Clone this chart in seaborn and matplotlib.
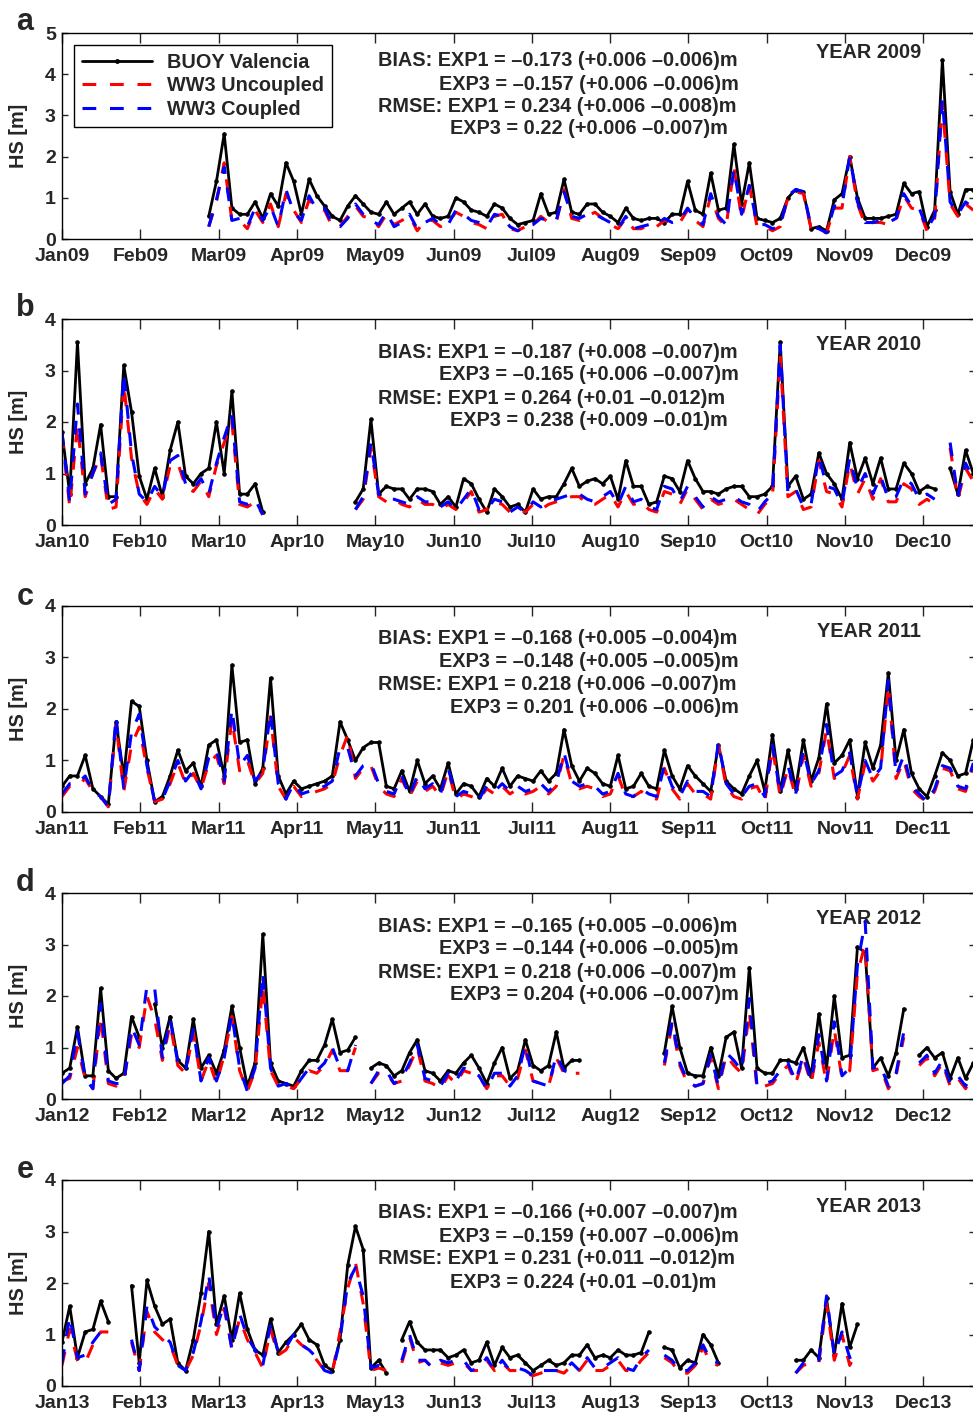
import numpy as np
import pandas as pd
import matplotlib
matplotlib.use("Agg")
import matplotlib.pyplot as plt
from matplotlib import font_manager as fm
from matplotlib.lines import Line2D
import seaborn as sns

NA = np.nan
STEP = 3  # days between samples

months = ['Jan', 'Feb', 'Mar', 'Apr', 'May', 'Jun',
          'Jul', 'Aug', 'Sep', 'Oct', 'Nov', 'Dec']
years = ['09', '10', '11', '12', '13']
panels = ['a', 'b', 'c', 'd', 'e']

# ---- HS values [m], one sample every 3 days ----
buoy_2009 = [NA] * 19 + [
    0.55, 1.4, 2.55, 0.75, 0.6, 0.6, 0.9, 0.5, 1.1, 0.8, 1.85, 1.4, 0.6, 1.45, 1.05, 0.8,
    0.55, 0.45, 0.8, 1.05, 0.85, 0.65, 0.6, 0.9, 0.6, 0.75, 0.9, 0.6, 0.85, 0.55, 0.5, 0.55,
    1.0, 0.9, 0.7, 0.65, 0.55, 0.85, 0.75, 0.5, 0.35, 0.4, 0.45, 1.1, 0.6, 0.65, 1.45, 0.65,
    0.6, 0.85, 0.85, 0.65, 0.55, 0.4, 0.75, 0.5, 0.45, 0.5, 0.5, 0.4, 0.6, 0.6, 1.4, 0.7,
    0.6, 1.6, 0.7, 0.75, 2.3, 0.85, 1.85, 0.5, 0.45, 0.4, 0.5, 1.0, 1.2, 1.15, 0.25, 0.3,
    0.2, 0.95, 1.1, 2.0, 1.0, 0.5, 0.5, 0.5, 0.55, 0.6, 1.35, 1.1, 1.15, 0.3, 0.7, 4.35,
    1.15, 0.6, 1.2, 1.2]
unc_2009 = [NA] * 19 + [
    0.3, 0.9, 1.85, 0.45, 0.45, 0.25, 0.7, 0.4, 0.85, 0.3, 1.1, 0.7, 0.4, 0.95, 0.75, 0.7,
    0.3, 0.3, 0.55, 0.8, 0.55, 0.5, 0.3, 0.6, 0.35, 0.45, 0.55, 0.2, 0.45, 0.45, 0.3, 0.4,
    0.65, 0.55, 0.4, 0.35, 0.25, 0.55, 0.6, 0.25, 0.2, 0.3, 0.35, 0.55, 0.4, 0.4, 1.2, 0.5,
    0.45, 0.55, 0.65, 0.5, 0.35, 0.25, 0.5, 0.25, 0.25, 0.35, 0.3, 0.45, 0.4, 0.4, 0.7, 0.45,
    0.3, 1.05, 0.5, 0.3, 1.75, 0.5, 1.3, 0.3, 0.3, 0.2, 0.3, 1.0, 1.15, 1.1, 0.25, 0.2,
    0.15, 0.75, 0.75, 2.0, 0.85, 0.35, 0.4, 0.4, 0.35, 0.45, 1.05, 0.75, 0.7, 0.2, 0.5, 3.3,
    0.85, 0.55, 0.85, 0.7]
cpl_2009 = [NA] * 19 + [
    0.3, 0.95, 1.75, 0.45, 0.5, 0.3, 0.75, 0.45, 0.8, 0.3, 1.2, 0.65, 0.45, 1.05, 0.7, 0.75,
    0.35, 0.3, 0.5, 0.85, 0.6, 0.45, 0.35, 0.65, 0.3, 0.4, 0.6, 0.25, 0.4, 0.5, 0.35, 0.35,
    0.7, 0.6, 0.45, 0.4, 0.3, 0.6, 0.55, 0.3, 0.2, 0.3, 0.35, 0.5, 0.45, 0.45, 1.15, 0.55,
    0.5, 0.6, 0.6, 0.5, 0.4, 0.25, 0.55, 0.25, 0.3, 0.35, 0.35, 0.5, 0.4, 0.45, 0.75, 0.5,
    0.35, 1.1, 0.55, 0.35, 1.7, 0.6, 1.3, 0.35, 0.35, 0.25, 0.3, 1.05, 1.2, 1.15, 0.3, 0.25,
    0.15, 0.8, 0.8, 2.0, 0.9, 0.4, 0.4, 0.45, 0.4, 0.5, 1.1, 0.8, 0.75, 0.25, 0.55, 3.4,
    0.9, 0.6, 0.9, 0.75]

buoy_2010 = [
    1.8, 0.6, 3.55, 0.8, 1.1, 1.95, 0.55, 0.55, 3.1, 2.2,
    0.95, 0.5, 1.1, 0.55, 1.45, 2.0, 0.95, 0.8, 1.0, 1.1,
    2.0, 1.0, 2.6, 0.6, 0.6, 0.8, 0.25, NA, NA, NA,
    NA, NA, NA, NA, NA, NA, NA, NA, 0.45, 0.7,
    2.05, 0.6, 0.75, 0.7, 0.7, 0.5, 0.7, 0.7, 0.65, 0.4,
    0.55, 0.35, 0.9, 0.8, 0.5, 0.25, 0.7, 0.55, 0.35, 0.4,
    0.25, 0.7, 0.5, 0.55, 0.55, 0.8, 1.1, 0.75, 0.85, 0.9,
    0.8, 0.95, 0.5, 1.25, 0.75, 0.75, 0.4, 0.45, 0.95, 0.9,
    0.65, 1.25, 0.9, 0.65, 0.65, 0.6, 0.7, 0.75, 0.75, 0.55,
    0.55, 0.6, 0.75, 3.55, 0.75, 0.95, 0.5, 0.6, 1.4, 1.0,
    0.8, 0.5, 1.6, 0.9, 1.3, 0.8, 1.3, 0.7, 0.7, 1.2,
    1.0, 0.65, 0.75, 0.7, NA, 1.1, 0.6, 1.45, 1.0]
unc_2010 = [
    1.75, 0.35, 1.95, 0.55, 1.0, 1.35, 0.3, 0.35, 2.75, 1.3,
    0.6, 0.4, 0.7, 0.5, 1.15, 1.2, 0.75, 0.65, 0.85, 0.55,
    1.15, 1.6, 2.0, 0.4, 0.35, 0.45, 0.2, NA, NA, NA,
    NA, NA, NA, NA, NA, NA, NA, NA, 0.3, 0.5,
    1.5, 0.55, 0.45, 0.5, 0.4, 0.35, 0.5, 0.4, 0.4, 0.3,
    0.4, 0.3, 0.45, 0.65, 0.25, 0.3, 0.45, 0.4, 0.25, 0.3,
    0.25, 0.4, 0.3, 0.4, 0.45, 0.5, 0.55, 0.55, 0.4, 0.4,
    0.5, 0.6, 0.35, 0.65, 0.4, 0.45, 0.3, 0.25, 0.65, 0.6,
    0.4, 0.7, 0.5, 0.3, 0.5, 0.4, 0.45, 0.5, 0.4, 0.3,
    0.2, 0.4, 0.55, 3.3, 0.55, 0.65, 0.3, 0.35, 1.25, 0.65,
    0.6, 0.35, 1.2, 0.6, 0.9, 0.5, 0.9, 0.45, 0.45, 0.8,
    0.7, 0.4, 0.5, 0.4, NA, 1.5, 0.5, 1.1, 0.85]
cpl_2010 = [
    1.8, 0.45, 2.35, 0.6, 1.0, 1.4, 0.4, 0.5, 2.95, 1.4,
    0.6, 0.45, 0.75, 0.55, 1.25, 1.35, 0.8, 0.7, 0.9, 0.6,
    1.2, 1.7, 2.15, 0.45, 0.4, 0.5, 0.2, NA, NA, NA,
    NA, NA, NA, NA, NA, NA, NA, NA, 0.3, 0.55,
    1.6, 0.6, 0.5, 0.5, 0.45, 0.4, 0.55, 0.45, 0.45, 0.35,
    0.45, 0.3, 0.5, 0.7, 0.3, 0.3, 0.5, 0.45, 0.25, 0.35,
    0.25, 0.45, 0.35, 0.45, 0.5, 0.55, 0.6, 0.6, 0.5, 0.45,
    0.55, 0.65, 0.4, 0.75, 0.45, 0.5, 0.35, 0.3, 0.75, 0.7,
    0.45, 0.75, 0.55, 0.35, 0.55, 0.45, 0.5, 0.55, 0.45, 0.4,
    0.25, 0.45, 0.6, 3.5, 0.6, 0.7, 0.35, 0.4, 1.35, 0.75,
    0.7, 0.4, 1.3, 0.7, 1.0, 0.6, 0.95, 0.5, 0.55, 0.9,
    0.8, 0.5, 0.6, 0.5, NA, 1.6, 0.55, 1.2, 0.9]

buoy_2011 = [
    0.5, 0.7, 0.7, 1.1, 0.45, 0.3, 0.15, 1.75, 0.7, 2.15,
    2.05, 1.0, 0.2, 0.3, 0.7, 1.2, 0.8, 0.95, 0.5, 1.3,
    1.4, 0.7, 2.85, 1.35, 1.4, 0.55, 0.85, 2.6, 0.7, 0.35,
    0.6, 0.45, 0.5, 0.55, 0.6, 0.7, 1.75, 1.4, 1.0, 1.25,
    1.35, 1.35, 0.5, 0.45, 0.8, 0.4, 1.0, 0.55, 0.7, 0.45,
    0.95, 0.35, 0.55, 0.5, 0.3, 0.65, 0.5, 0.85, 0.5, 0.7,
    0.65, 0.6, 0.8, 0.6, 0.75, 1.6, 0.9, 0.6, 0.85, 0.75,
    0.55, 0.5, 1.1, 0.45, 0.5, 0.75, 0.5, 0.45, 1.2, 0.7,
    0.45, 0.9, 0.7, 0.55, 0.4, 1.3, 0.6, 0.45, 0.35, 0.7,
    1.0, 0.4, 1.5, 0.4, 1.2, 0.45, 1.4, 0.6, 1.05, 2.1,
    0.95, 1.1, 1.4, 0.3, 1.35, 0.85, 1.3, 2.7, 1.0, 1.6,
    0.75, 0.45, 0.3, 0.7, 1.15, 1.0, 0.7, 0.75, 1.4]
unc_2011 = [
    0.3, 0.5, 0.5, 0.65, 0.4, 0.3, 0.1, 1.7, 0.4, 1.3,
    1.65, 0.85, 0.2, 0.25, 0.55, 0.95, 0.55, 0.75, 0.45, 0.95,
    1.1, 0.55, 1.8, 0.8, 1.0, 0.55, 0.75, 1.85, 0.5, 0.25,
    0.5, 0.3, 0.35, 0.4, 0.45, 0.55, 1.1, 1.5, 0.65, 0.85,
    0.9, 0.5, 0.35, 0.3, 0.65, 0.3, 0.6, 0.4, 0.5, 0.3,
    0.8, 0.25, 0.35, 0.3, 0.25, 0.45, 0.35, 0.5, 0.35, 0.45,
    0.35, 0.4, 0.5, 0.35, 0.5, 1.1, 0.55, 0.45, 0.5, 0.45,
    0.3, 0.35, 0.7, 0.3, 0.3, 0.4, 0.3, 0.25, 0.85, 0.45,
    0.25, 0.55, 0.35, 0.35, 0.25, 1.3, 0.5, 0.3, 0.25, 0.45,
    0.5, 0.2, 1.25, 0.3, 0.85, 0.3, 1.1, 0.5, 0.75, 1.6,
    0.65, 0.75, 1.1, 0.25, 0.95, 0.6, 0.8, 2.45, 0.65, 1.0,
    0.45, 0.3, 0.2, 0.4, 0.85, 0.8, 0.45, 0.4, 0.9]
cpl_2011 = [
    0.35, 0.55, 0.55, 0.7, 0.4, 0.3, 0.1, 1.85, 0.45, 1.55,
    1.9, 0.9, 0.2, 0.25, 0.6, 1.0, 0.6, 0.8, 0.45, 1.05,
    1.2, 0.6, 2.0, 0.9, 1.1, 0.6, 0.8, 1.95, 0.55, 0.25,
    0.55, 0.35, 0.4, 0.45, 0.5, 0.6, 1.25, 1.25, 0.7, 0.9,
    0.95, 0.55, 0.4, 0.35, 0.7, 0.3, 0.7, 0.45, 0.55, 0.35,
    0.85, 0.3, 0.4, 0.35, 0.25, 0.5, 0.4, 0.55, 0.4, 0.5,
    0.4, 0.45, 0.55, 0.4, 0.55, 1.15, 0.6, 0.5, 0.55, 0.5,
    0.35, 0.4, 0.75, 0.35, 0.3, 0.45, 0.35, 0.3, 0.9, 0.5,
    0.3, 0.6, 0.4, 0.4, 0.3, 1.35, 0.55, 0.35, 0.3, 0.5,
    0.55, 0.3, 1.3, 0.35, 0.9, 0.35, 1.2, 0.55, 0.8, 1.7,
    0.7, 0.8, 1.15, 0.3, 1.0, 0.65, 0.85, 2.55, 0.7, 1.1,
    0.5, 0.35, 0.2, 0.45, 0.9, 0.85, 0.5, 0.45, 0.95]

buoy_2012 = [
    0.5, 0.6, 1.4, 0.45, 0.45, 2.15, 0.55, 0.4, 0.5, 1.6,
    1.2, NA, 1.85, 1.0, 1.6, 0.75, 0.6, 1.55, 0.6, 0.85,
    0.5, 0.95, 1.8, 1.0, 0.25, 0.7, 3.2, 0.7, 0.35, 0.3,
    0.25, 0.55, 0.75, 0.75, 1.05, 1.55, 0.9, 0.95, 1.2, NA,
    0.6, 0.7, 0.65, 0.45, 0.55, 0.9, 1.15, 0.55, 0.5, 0.35,
    0.55, 0.5, 0.7, 0.85, 0.6, 0.3, 0.7, 1.0, 0.4, 0.55,
    1.15, 0.65, 0.55, 0.65, 1.3, 0.6, 0.75, 0.75, NA, NA,
    NA, NA, NA, NA, NA, NA, NA, NA, 0.9, 1.8,
    1.0, 0.5, 0.45, 0.45, 1.0, 0.45, 1.2, 1.3, 0.6, 2.55,
    0.6, 0.5, 0.5, 0.75, 0.75, 0.7, 1.0, 0.45, 1.65, 0.6,
    2.0, 0.8, 0.85, 2.95, 2.85, 0.6, 0.8, 0.45, 0.9, 1.75,
    NA, 0.85, 1.0, 0.8, 0.9, 0.4, 0.8, 0.4, 0.7]
unc_2012 = [
    0.35, 0.4, 1.0, 0.4, 0.2, 1.6, 0.3, 0.25, 0.35, 1.25,
    1.0, 2.0, 1.55, 0.75, 1.45, 0.65, 0.5, 1.3, 0.35, 0.75,
    0.3, 0.85, 1.6, 0.55, 0.15, 0.55, 2.2, 0.55, 0.25, 0.25,
    0.2, 0.4, 0.55, 0.5, 0.65, 0.95, 0.55, 0.55, 1.0, NA,
    0.3, 0.5, 0.5, 0.3, 0.35, 0.65, 1.0, 0.35, 0.3, 0.2,
    0.45, 0.3, 0.55, 0.5, 0.45, 0.2, 0.45, 0.45, 0.25, 0.4,
    0.95, 0.35, 0.3, 0.25, 0.8, 0.5, 0.5, 0.5, NA, NA,
    NA, NA, NA, NA, NA, NA, NA, NA, 0.65, 1.45,
    0.65, 0.3, 0.25, 0.3, 0.8, 0.2, 0.85, 0.65, 0.5, 1.7,
    0.2, 0.25, 0.3, 0.5, 0.65, 0.3, 0.8, 0.3, 1.1, 0.3,
    1.35, 0.4, 0.55, 2.45, 3.0, 0.55, 0.6, 0.2, 0.45, 1.2,
    NA, 0.65, 0.8, 0.45, 0.7, 0.25, 0.4, 0.2, 0.45]
cpl_2012 = [
    0.3, 0.45, 1.3, 0.4, 0.2, 1.85, 0.35, 0.3, 0.3, 1.4,
    1.05, 2.2, 2.15, 0.8, 1.55, 0.7, 0.55, 1.35, 0.35, 0.8,
    0.35, 0.8, 1.65, 0.6, 0.15, 0.6, 2.45, 0.6, 0.25, 0.3,
    0.2, 0.4, 0.6, 0.55, 0.7, 1.0, 0.6, 0.55, 1.05, NA,
    0.3, 0.55, 0.55, 0.3, 0.4, 0.7, 1.05, 0.4, 0.35, 0.25,
    0.5, 0.35, 0.6, 0.55, 0.45, 0.2, 0.5, 0.5, 0.25, 0.45,
    1.05, 0.35, 0.3, 0.25, 0.85, 0.55, 0.5, 0.55, NA, NA,
    NA, NA, NA, NA, NA, NA, NA, NA, 0.7, 1.5,
    0.7, 0.35, 0.25, 0.3, 0.85, 0.25, 0.9, 0.75, 0.55, 1.95,
    0.25, 0.3, 0.35, 0.55, 0.7, 0.35, 0.85, 0.35, 1.25, 0.35,
    1.5, 0.45, 0.6, 2.6, 3.45, 0.6, 0.65, 0.25, 0.5, 1.3,
    NA, 0.7, 0.85, 0.5, 0.75, 0.3, 0.45, 0.25, 0.5]

buoy_2013 = [
    0.85, 1.55, 0.55, 1.05, 1.1, 1.65, 1.25, NA, NA, 1.95,
    0.45, 2.05, 1.55, 1.2, 1.3, 0.45, 0.3, 0.9, 1.8, 3.0,
    1.2, 1.75, 0.9, 1.8, 1.1, 0.7, 0.6, 1.3, 0.65, 0.85,
    1.0, 1.2, 0.9, 0.8, 0.4, 0.3, 0.9, 2.35, 3.1, 2.65,
    0.35, 0.5, 0.25, NA, 0.9, 1.25, 0.85, 0.7, 0.7, 0.7,
    0.55, 0.6, 0.7, 0.45, 0.5, 0.85, 0.4, 0.75, 0.55, 0.6,
    0.45, 0.3, 0.4, 0.5, 0.4, 0.45, 0.6, 0.6, 0.8, 0.55,
    0.6, 0.55, 0.7, 0.6, 0.6, 0.65, 1.05, NA, 0.75, 0.7,
    0.35, 0.5, 0.45, 1.0, 0.8, 0.45, NA, NA, NA, NA,
    NA, NA, NA, NA, NA, 0.5, 0.5, 0.7, 0.55, 1.7,
    0.6, 1.6, 0.75, 1.2]
unc_2013 = [
    0.4, 1.1, 0.5, 0.45, 0.8, 1.05, 1.05, NA, NA, 0.85,
    0.3, 1.45, 1.05, 0.9, 0.8, 0.4, 0.3, 0.6, 1.2, 2.0,
    1.0, 1.5, 0.75, 1.3, 0.9, 0.65, 0.35, 1.1, 0.6, 0.7,
    0.95, 0.8, 0.7, 0.5, 0.3, 0.25, 1.05, 1.9, 2.4, 1.6,
    0.3, 0.35, 0.3, NA, 0.45, 0.95, 0.45, 0.5, 0.35, 0.45,
    0.4, 0.45, 0.45, 0.3, 0.3, 0.5, 0.3, 0.45, 0.3, 0.3,
    0.25, 0.2, 0.25, 0.3, 0.3, 0.25, 0.4, 0.3, 0.5, 0.3,
    0.3, 0.4, 0.5, 0.3, 0.3, 0.5, 0.65, NA, 0.55, 0.45,
    0.25, 0.25, 0.4, 0.75, 0.45, 0.4, NA, NA, NA, NA,
    NA, NA, NA, NA, NA, 0.25, 0.4, 0.45, 0.45, 1.6,
    0.5, 1.0, 0.4, 0.7]
cpl_2013 = [
    0.45, 1.35, 0.55, 0.6, 0.85, 1.05, 1.05, NA, NA, 0.9,
    0.3, 1.55, 1.15, 1.0, 0.85, 0.4, 0.3, 0.65, 1.25, 2.15,
    1.1, 1.6, 0.7, 1.4, 0.95, 0.7, 0.4, 1.2, 0.65, 0.75,
    1.0, 0.8, 0.7, 0.55, 0.3, 0.25, 0.9, 2.0, 2.3, 1.75,
    0.35, 0.4, 0.3, NA, 0.5, 1.0, 0.5, 0.5, 0.35, 0.5,
    0.45, 0.5, 0.5, 0.3, 0.35, 0.55, 0.3, 0.5, 0.3, 0.35,
    0.3, 0.2, 0.3, 0.3, 0.3, 0.3, 0.45, 0.3, 0.55, 0.35,
    0.35, 0.45, 0.55, 0.35, 0.3, 0.55, 0.7, NA, 0.6, 0.5,
    0.3, 0.3, 0.45, 0.8, 0.5, 0.45, NA, NA, NA, NA,
    NA, NA, NA, NA, NA, 0.25, 0.45, 0.5, 0.5, 1.75,
    0.6, 1.05, 0.55, 0.65]

buoy = [buoy_2009, buoy_2010, buoy_2011, buoy_2012, buoy_2013]
uncoupled = [unc_2009, unc_2010, unc_2011, unc_2012, unc_2013]
coupled = [cpl_2009, cpl_2010, cpl_2011, cpl_2012, cpl_2013]

# statistics text
bias_exp1 = ['\u20130.173 (+0.006 \u20130.006)m', '\u20130.187 (+0.008 \u20130.007)m',
             '\u20130.168 (+0.005 \u20130.004)m', '\u20130.165 (+0.005 \u20130.006)m',
             '\u20130.166 (+0.007 \u20130.007)m']
bias_exp3 = ['\u20130.157 (+0.006 \u20130.006)m', '\u20130.165 (+0.006 \u20130.007)m',
             '\u20130.148 (+0.005 \u20130.005)m', '\u20130.144 (+0.006 \u20130.005)m',
             '\u20130.159 (+0.007 \u20130.006)m']
rmse_exp1 = ['0.234 (+0.006 \u20130.008)m', '0.264 (+0.01 \u20130.012)m',
             '0.218 (+0.006 \u20130.007)m', '0.218 (+0.006 \u20130.007)m',
             '0.231 (+0.011 \u20130.012)m']
rmse_exp3 = ['0.22 (+0.006 \u20130.007)m', '0.238 (+0.009 \u20130.01)m',
             '0.201 (+0.006 \u20130.006)m', '0.204 (+0.006 \u20130.007)m',
             '0.224 (+0.01 \u20130.01)m']
y_max = [5, 4, 4, 4, 4]

sns.set_style("ticks")


# pick a Helvetica-like family that really has a bold face installed
def _w(f):
    w = f.weight
    if isinstance(w, str):
        w = fm.weight_dict.get(w, 400)
    return w


bold_families = {f.name for f in fm.fontManager.ttflist if _w(f) >= 700}
family = next((c for c in ['Liberation Sans', 'Arimo', 'Roboto', 'Inter', 'Open Sans',
                           'Lato', 'Noto Sans', 'DejaVu Sans'] if c in bold_families),
              'DejaVu Sans')
plt.rcParams['font.family'] = [family, 'DejaVu Sans']
plt.rcParams['font.weight'] = 'bold'

FS = 14.3
W, H = 973, 1414
fig = plt.figure(figsize=(W / 100, H / 100), dpi=100)

ax_left, ax_right = 62, 975
ax_h = 206
ax_tops = [33, 319, 606, 893, 1180]
letter_y = [22, 308, 597, 883, 1170]
px_per_day = 78.3 / (365 / 12)
x_end = (ax_right - ax_left) / px_per_day


def frame(vals):
    y = np.asarray(vals, dtype=float)
    df = pd.DataFrame({'day': np.arange(len(y)) * STEP, 'hs': y,
                       'seg': np.cumsum(np.isnan(y))})
    return df.dropna()


def fx(px):
    return (px - ax_left) / (ax_right - ax_left)


dash = (0, (4.5, 4.5))
for i in range(5):
    top = ax_tops[i]
    ax = fig.add_axes([ax_left / W, 1 - (top + ax_h) / H,
                       (ax_right - ax_left) / W, ax_h / H])

    sns.lineplot(data=frame(buoy[i]), x='day', y='hs', units='seg', estimator=None,
                 color='black', lw=2.0, marker='o', ms=2.5, mec='black', ax=ax, legend=False)
    sns.lineplot(data=frame(uncoupled[i]), x='day', y='hs', units='seg', estimator=None,
                 color='red', lw=2.2, linestyle=dash, ax=ax, legend=False)
    sns.lineplot(data=frame(coupled[i]), x='day', y='hs', units='seg', estimator=None,
                 color='blue', lw=2.2, linestyle=dash, ax=ax, legend=False)

    ax.set_xlim(0, x_end)
    ax.set_ylim(0, y_max[i])
    ax.set_xticks([k * 365 / 12 for k in range(12)])
    ax.set_xticklabels([m + years[i] for m in months])
    ax.set_yticks(range(y_max[i] + 1))
    ax.set_xlabel('')
    ax.set_ylabel('HS [m]', fontsize=FS, fontweight='bold')
    ax.yaxis.set_label_coords(fx(28), 0.5)
    ax.tick_params(direction='in', top=True, right=True, labelsize=14, width=1.0)
    ax.tick_params(axis='x', length=7, pad=6.5)
    ax.tick_params(axis='y', length=4.5, pad=4.5)
    for s in ax.spines.values():
        s.set_linewidth(1.0)
        s.set_color('black')

    # statistics
    offs = [27, 51, 73, 96] if i == 0 else [33, 56, 79, 102]
    rows = [('BIAS: EXP1 = ' + bias_exp1[i], 378), ('EXP3 = ' + bias_exp3[i], 439),
            ('RMSE: EXP1 = ' + rmse_exp1[i], 378), ('EXP3 = ' + rmse_exp3[i], 450)]
    for (txt, x0), o in zip(rows, offs):
        ax.text(fx(x0), 1 - o / ax_h, txt, transform=ax.transAxes, ha='left',
                va='center', fontsize=FS, fontweight='bold')
    year_off = 20 if i == 0 else 26
    ax.text(fx(869), 1 - year_off / ax_h, 'YEAR 20' + years[i], transform=ax.transAxes,
            ha='center', va='center', fontsize=FS, fontweight='bold')

    fig.text(25 / W, 1 - letter_y[i] / H, panels[i], fontsize=22, fontweight='bold',
             ha='center', va='center')

    if i == 0:
        handles = [Line2D([], [], color='black', lw=2.0, marker='o', ms=2.5),
                   Line2D([], [], color='red', lw=2.2, linestyle=dash),
                   Line2D([], [], color='blue', lw=2.2, linestyle=dash)]
        leg = ax.legend(handles, ['BUOY Valencia', 'WW3 Uncoupled', 'WW3 Coupled'],
                        loc='upper left', bbox_to_anchor=(fx(74), 1 - 12 / ax_h),
                        borderaxespad=0, frameon=True, fancybox=False, framealpha=1,
                        edgecolor='black', handlelength=3.55, numpoints=1,
                        prop={'size': FS, 'weight': 'bold'}, labelspacing=0.22,
                        borderpad=0.4, handletextpad=0.75)
        leg.get_frame().set_linewidth(1.0)

fig.savefig('out.png', dpi=100)
